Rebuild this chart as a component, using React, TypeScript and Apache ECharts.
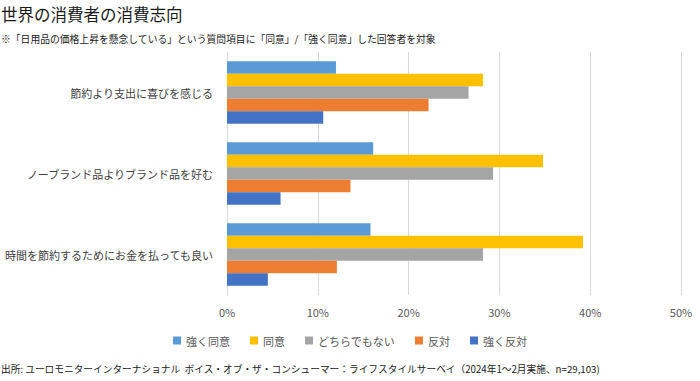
import React, { useEffect, useRef } from "react";
import * as echarts from "echarts";

const categories = [
  "節約より支出に喜びを感じる",
  "ノーブランド品よりブランド品を好む",
  "時間を節約するためにお金を払っても良い",
];
const seriesNames = ["強く同意", "同意", "どちらでもない", "反対", "強く反対"];
const stronglyAgree = [12.0, 16.1, 15.8];
const agree = [28.2, 34.8, 39.2];
const neutral = [26.6, 29.3, 28.2];
const disagree = [22.2, 13.6, 12.1];
const stronglyDisagree = [10.6, 5.9, 4.5];
const xTicks = [0, 10, 20, 30, 40, 50];
const colors = ["#5B9BD5", "#FFC000", "#A5A5A5", "#ED7D31", "#4472C4"];

const title = "世界の消費者の消費志向";
const subtitle =
  "※「日用品の価格上昇を懸念している」という質問項目に「同意」/「強く同意」した回答者を対象";
const footer =
  "出所: ユーロモニターインターナショナル  ボイス・オブ・ザ・コンシューマー：ライフスタイルサーベイ（2024年1～2月実施、n=29,103)";

const FONT = '"Noto Sans CJK JP", "Noto Sans", sans-serif';

export default function App() {
  const ref = useRef<HTMLDivElement>(null);
  useEffect(() => {
    document.body.style.margin = "0";
    if (!ref.current) return;
    const chart = echarts.init(ref.current, null, { renderer: "svg" });
    const values = [stronglyAgree, agree, neutral, disagree, stronglyDisagree];
    chart.setOption({
      animation: false,
      textStyle: { fontFamily: FONT },
      color: colors,
      graphic: [
        {
          type: "text",
          left: 1,
          top: 6,
          style: { text: title, fontSize: 16.5, fill: "#1a1a1a", fontFamily: FONT },
        },
        {
          type: "text",
          left: 1,
          top: 34,
          style: { text: subtitle, fontSize: 9.8, fill: "#1a1a1a", fontFamily: FONT },
        },
        {
          type: "text",
          left: 1,
          top: 364,
          style: { text: footer, fontSize: 9.7, fill: "#1a1a1a", fontFamily: FONT },
        },
      ],
      legend: {
        data: seriesNames,
        left: "center",
        top: 330,
        itemWidth: 8,
        itemHeight: 8,
        itemGap: 20,
        icon: "rect",
        textStyle: { fontSize: 11, color: "#595959", fontFamily: FONT },
      },
      grid: { left: 227, right: 19, top: 52, bottom: 86, containLabel: false },
      xAxis: {
        type: "value",
        min: xTicks[0],
        max: xTicks[xTicks.length - 1],
        interval: 10,
        axisLine: { show: false },
        axisTick: { show: false },
        splitLine: { show: true, lineStyle: { color: "#D9D9D9", width: 1 } },
        axisLabel: {
          formatter: (v: number) => `${v}%`,
          fontSize: 11,
          color: "#595959",
          margin: 11,
          fontFamily: FONT,
        },
      },
      yAxis: {
        type: "category",
        data: categories,
        inverse: true,
        axisLine: { show: true, lineStyle: { color: "#D9D9D9" } },
        axisTick: { show: false },
        axisLabel: { fontSize: 11, color: "#404040", margin: 14, fontFamily: FONT },
      },
      series: seriesNames.map((name, i) => ({
        name,
        type: "bar",
        data: values[i],
        barGap: "0%",
        barCategoryGap: "23%",
        itemStyle: { color: colors[i] },
      })),
    });
    return () => chart.dispose();
  }, []);
  return <div ref={ref} style={{ width: 700, height: 381 }} />;
}
